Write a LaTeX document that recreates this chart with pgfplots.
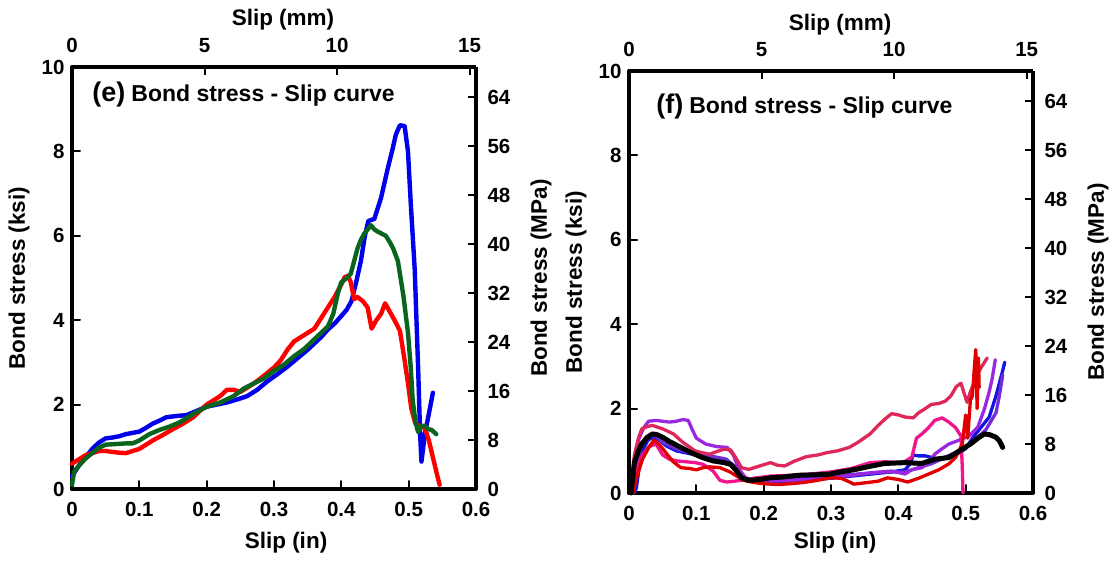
\documentclass[border=0pt]{standalone}
\usepackage{fontspec}
\setmainfont{Liberation Sans}
\usepackage{pgfplots}
\pgfplotsset{compat=1.18}
\definecolor{cblue}{RGB}{0,0,235}
\definecolor{cred}{RGB}{255,0,0}
\definecolor{cgreen}{RGB}{10,100,30}
\definecolor{rblue}{RGB}{20,20,225}
\definecolor{rpurple}{RGB}{155,40,225}
\definecolor{rviolet}{RGB}{115,45,215}
\definecolor{rcrimson}{RGB}{222,40,90}
\definecolor{rpink}{RGB}{242,20,140}
\definecolor{rred}{RGB}{225,0,0}
\pgfplotsset{
  base/.style={
    scale only axis, width=404pt, height=422pt,
    axis line style={line width=4pt},
    every tick/.style={line width=2pt, black},
    major tick length=8pt,
    tick align=inside,
    tick label style={font=\fontsize{20.5}{20.5}\selectfont\bfseries},
    label style={font=\fontsize{22.5}{22.5}\selectfont\bfseries},
    clip=false,
  },
  main/.style={base,
    xmin=0,xmax=0.6,ymin=0,ymax=10,
    axis x line*=bottom, axis y line*=left,
    xtick={0,0.1,0.2,0.3,0.4,0.5,0.6},
    xticklabels={0,0.1,0.2,0.3,0.4,0.5,0.6},
    ytick={0,2,4,6,8,10}, yticklabels={0,2,4,6,8,10},
    xticklabel shift=10pt, yticklabel shift=4pt,
    xlabel={Slip (in)}, ylabel={Bond stress (ksi)},
    ylabel style={at={(axis description cs:0,0.5)}, anchor=center, yshift=53pt},
    line join=round, line cap=round,
  },
  sec/.style={base,
    xmin=0,xmax=15.24,ymin=0,ymax=68.95,
    axis x line*=top, axis y line*=right,
    xtick={0,5,10,15}, xticklabels={0,5,10,15},
    ytick={0,8,16,24,32,40,48,56,64}, yticklabels={0,8,16,24,32,40,48,56,64},
    xticklabel shift=11pt, yticklabel shift=8pt,
    xlabel={Slip (mm)}, ylabel={Bond stress (MPa)},
    ylabel style={at={(axis description cs:1,0.5)}, anchor=center, yshift=-65pt},
  },
}
\begin{document}
\begin{tikzpicture}
\useasboundingbox (0,0) rectangle (1118pt,562pt);
% ---------------- panel (e)
\begin{axis}[sec, at={(72pt,73pt)}, anchor=south west,
  xlabel style={at={(axis description cs:0.5,1)}, anchor=center, yshift=47pt, xshift=9pt}]
\end{axis}
\begin{axis}[main, at={(72pt,73pt)}, anchor=south west,
  xlabel style={at={(axis description cs:0.5,0)}, anchor=center, yshift=-54pt, xshift=12pt}]
\node[anchor=west, inner sep=0pt] at (rel axis cs:0.05,0.935)
  {\fontsize{27}{27}\selectfont\bfseries (e)\hspace{6pt}\fontsize{23}{23}\selectfont Bond stress - Slip curve};
\addplot[cblue, line width=4.4pt] coordinates {
(0,0.3) (0.01,0.55) (0.02,0.75) (0.03,0.95) (0.04,1.1) (0.05,1.2) (0.06,1.22) (0.07,1.25) (0.08,1.3) (0.09,1.33) (0.1,1.36) (0.11,1.45) (0.12,1.55) (0.13,1.62) (0.14,1.7) (0.155,1.73) (0.17,1.75) (0.185,1.85) (0.2,1.95) (0.215,2.0) (0.23,2.05) (0.245,2.12) (0.26,2.2) (0.275,2.35) (0.29,2.55) (0.305,2.72) (0.32,2.9) (0.335,3.1) (0.35,3.3) (0.36,3.45) (0.37,3.6) (0.38,3.78) (0.39,3.92) (0.40,4.1) (0.408,4.25) (0.415,4.45) (0.422,4.9) (0.429,5.4) (0.435,6.0) (0.44,6.35) (0.449,6.4) (0.459,6.9) (0.469,7.6) (0.476,8.05) (0.481,8.4) (0.487,8.62) (0.494,8.6) (0.499,8.0) (0.503,6.8) (0.509,5.2) (0.514,2.9) (0.517,1.3) (0.519,0.65) (0.524,1.3) (0.529,1.7) (0.536,2.28)
};
\addplot[cred, line width=4.4pt] coordinates {
(0,0.6) (0.01,0.7) (0.02,0.8) (0.03,0.85) (0.04,0.9) (0.05,0.9) (0.06,0.88) (0.07,0.86) (0.08,0.85) (0.09,0.9) (0.1,0.95) (0.11,1.05) (0.12,1.15) (0.135,1.28) (0.15,1.42) (0.165,1.55) (0.18,1.7) (0.19,1.85) (0.2,2.0) (0.21,2.1) (0.22,2.2) (0.23,2.35) (0.24,2.35) (0.25,2.3) (0.26,2.4) (0.27,2.5) (0.28,2.62) (0.29,2.75) (0.3,2.88) (0.31,3.05) (0.32,3.3) (0.33,3.5) (0.34,3.6) (0.35,3.7) (0.36,3.8) (0.37,4.05) (0.38,4.3) (0.39,4.55) (0.40,4.85) (0.405,5.02) (0.41,5.05) (0.414,4.9) (0.419,4.5) (0.424,4.55) (0.432,4.45) (0.439,4.3) (0.445,3.8) (0.452,4.0) (0.459,4.15) (0.465,4.4) (0.472,4.2) (0.479,4.0) (0.487,3.75) (0.494,3.05) (0.499,2.5) (0.504,1.9) (0.51,1.55) (0.516,1.5) (0.524,1.45) (0.53,1.15) (0.536,0.75) (0.542,0.35) (0.546,0.1)
};
\addplot[cgreen, line width=4.4pt] coordinates {
(0,0.1) (0.003,0.4) (0.01,0.55) (0.02,0.72) (0.03,0.85) (0.04,0.98) (0.05,1.05) (0.06,1.06) (0.07,1.07) (0.08,1.08) (0.09,1.08) (0.1,1.15) (0.115,1.3) (0.13,1.4) (0.145,1.48) (0.16,1.58) (0.18,1.78) (0.2,1.95) (0.22,2.05) (0.24,2.2) (0.255,2.38) (0.27,2.5) (0.285,2.62) (0.3,2.8) (0.315,2.95) (0.33,3.15) (0.345,3.32) (0.36,3.55) (0.37,3.7) (0.38,3.85) (0.388,4.15) (0.395,4.65) (0.40,4.9) (0.408,5.0) (0.414,5.1) (0.419,5.4) (0.424,5.7) (0.429,5.9) (0.434,6.05) (0.439,6.15) (0.444,6.25) (0.449,6.15) (0.454,6.1) (0.46,6.05) (0.466,6.0) (0.472,5.85) (0.477,5.7) (0.484,5.4) (0.488,5.0) (0.492,4.6) (0.499,3.7) (0.503,2.9) (0.506,2.1) (0.51,1.6) (0.514,1.35) (0.519,1.5) (0.524,1.5) (0.529,1.42) (0.534,1.4) (0.541,1.3)
};
\end{axis}
% ---------------- panel (f)
\begin{axis}[sec, at={(629pt,69pt)}, anchor=south west,
  xlabel style={at={(axis description cs:0.5,1)}, anchor=center, yshift=46pt, xshift=9pt}]
\end{axis}
\begin{axis}[main, at={(629pt,69pt)}, anchor=south west,
  xlabel style={at={(axis description cs:0.5,0)}, anchor=center, yshift=-50pt, xshift=4pt}]
\node[anchor=west, inner sep=0pt] at (rel axis cs:0.067,0.915)
  {\fontsize{27}{27}\selectfont\bfseries (f)\hspace{6pt}\fontsize{23}{23}\selectfont Bond stress - Slip curve};
\addplot[rblue, line width=3.3pt] coordinates {
(0.008,0.0) (0.011,0.12) (0.015,0.6) (0.02,1.0) (0.028,1.25) (0.035,1.32) (0.045,1.25) (0.055,1.12) (0.07,1.0) (0.085,0.95) (0.1,0.9) (0.115,0.85) (0.13,0.8) (0.145,0.78) (0.155,0.65) (0.165,0.45) (0.175,0.32) (0.19,0.28) (0.21,0.25) (0.23,0.28) (0.26,0.3) (0.3,0.35) (0.33,0.4) (0.36,0.45) (0.39,0.5) (0.41,0.55) (0.418,0.7) (0.422,0.9) (0.43,0.88) (0.44,0.88) (0.45,0.84) (0.46,0.8) (0.47,0.85) (0.48,0.9) (0.49,0.95) (0.5,1.05) (0.51,1.3) (0.52,1.5) (0.535,1.8) (0.545,2.3) (0.55,2.6) (0.555,2.9) (0.558,3.1)
};
\addplot[rviolet, line width=3.3pt] coordinates {
(0.005,0) (0.012,0.8) (0.02,1.15) (0.03,1.35) (0.04,1.35) (0.05,1.2) (0.07,1.05) (0.09,0.95) (0.11,0.9) (0.13,0.85) (0.145,0.8) (0.16,0.55) (0.17,0.35) (0.19,0.3) (0.22,0.3) (0.26,0.35) (0.3,0.4) (0.34,0.45) (0.38,0.5) (0.41,0.5) (0.43,0.6) (0.45,0.7) (0.47,0.85) (0.49,1.0) (0.51,1.2) (0.53,1.5) (0.545,1.9) (0.55,2.3) (0.555,2.8)
};
\addplot[rpurple, line width=3.3pt] coordinates {
(0.003,0.0) (0.008,0.8) (0.015,1.3) (0.022,1.55) (0.029,1.7) (0.04,1.72) (0.05,1.7) (0.06,1.68) (0.07,1.7) (0.08,1.74) (0.088,1.72) (0.094,1.5) (0.1,1.3) (0.114,1.16) (0.13,1.1) (0.146,1.08) (0.155,0.9) (0.162,0.6) (0.173,0.36) (0.19,0.3) (0.21,0.28) (0.24,0.3) (0.28,0.33) (0.32,0.4) (0.36,0.48) (0.39,0.52) (0.41,0.45) (0.42,0.55) (0.435,0.6) (0.445,0.72) (0.454,0.92) (0.465,1.05) (0.475,1.16) (0.49,1.25) (0.505,1.35) (0.518,1.56) (0.528,2.0) (0.535,2.4) (0.539,2.68) (0.544,3.16)
};
\addplot[rcrimson, line width=3.3pt] coordinates {
(0.002,0) (0.008,0.9) (0.014,1.3) (0.019,1.52) (0.028,1.58) (0.035,1.6) (0.05,1.52) (0.066,1.4) (0.08,1.2) (0.098,1.0) (0.11,0.95) (0.12,0.92) (0.13,0.98) (0.141,1.04) (0.151,1.02) (0.16,0.8) (0.167,0.6) (0.178,0.56) (0.19,0.62) (0.21,0.72) (0.22,0.66) (0.231,0.64) (0.245,0.75) (0.263,0.86) (0.28,0.9) (0.295,0.96) (0.31,1.0) (0.327,1.08) (0.34,1.2) (0.358,1.4) (0.37,1.6) (0.38,1.75) (0.39,1.88) (0.40,1.85) (0.41,1.8) (0.422,1.78) (0.43,1.9) (0.44,2.0) (0.449,2.1) (0.46,2.12) (0.47,2.18) (0.478,2.3) (0.486,2.52) (0.493,2.6) (0.497,2.4) (0.502,2.15) (0.507,2.4) (0.515,2.7) (0.522,2.95) (0.532,3.2)
};
\addplot[rpink, line width=3.3pt] coordinates {
(0.005,0) (0.01,0.5) (0.02,0.9) (0.03,1.1) (0.04,1.16) (0.05,0.9) (0.06,0.8) (0.072,0.76) (0.085,0.74) (0.098,0.72) (0.11,0.68) (0.125,0.52) (0.135,0.3) (0.145,0.26) (0.157,0.28) (0.175,0.32) (0.189,0.36) (0.21,0.4) (0.24,0.42) (0.27,0.45) (0.3,0.5) (0.33,0.58) (0.358,0.72) (0.38,0.74) (0.40,0.72) (0.41,0.75) (0.42,0.85) (0.427,1.3) (0.435,1.4) (0.445,1.55) (0.454,1.72) (0.465,1.78) (0.475,1.68) (0.485,1.55) (0.493,1.35) (0.495,0.6) (0.496,0)
};
\addplot[rred, line width=3.3pt] coordinates {
(0.006,0) (0.012,0.4) (0.02,0.8) (0.03,1.1) (0.037,1.25) (0.045,1.15) (0.055,0.95) (0.065,0.75) (0.077,0.6) (0.09,0.58) (0.1,0.55) (0.11,0.6) (0.12,0.62) (0.135,0.6) (0.15,0.5) (0.16,0.4) (0.17,0.3) (0.185,0.25) (0.2,0.22) (0.22,0.2) (0.24,0.22) (0.26,0.25) (0.28,0.3) (0.299,0.36) (0.315,0.35) (0.325,0.28) (0.334,0.21) (0.35,0.24) (0.37,0.28) (0.384,0.36) (0.4,0.32) (0.414,0.26) (0.43,0.35) (0.445,0.45) (0.46,0.55) (0.475,0.69) (0.485,0.84) (0.495,1.16) (0.5,1.85) (0.503,1.3) (0.507,2.2) (0.51,2.3) (0.513,3.0) (0.515,3.4) (0.517,2.0) (0.519,3.2) (0.52,2.5)
};
\addplot[black, line width=5pt] coordinates {
(0.003,0) (0.008,0.72) (0.014,1.0) (0.019,1.16) (0.027,1.32) (0.035,1.4) (0.042,1.38) (0.05,1.32) (0.06,1.22) (0.077,1.08) (0.093,0.95) (0.109,0.84) (0.125,0.76) (0.141,0.72) (0.151,0.68) (0.16,0.52) (0.167,0.36) (0.178,0.3) (0.195,0.32) (0.21,0.36) (0.23,0.38) (0.252,0.42) (0.275,0.43) (0.295,0.44) (0.315,0.5) (0.337,0.56) (0.36,0.64) (0.38,0.7) (0.41,0.72) (0.435,0.7) (0.454,0.8) (0.475,0.84) (0.491,1.0) (0.507,1.16) (0.52,1.32) (0.528,1.4) (0.536,1.38) (0.545,1.32) (0.55,1.24) (0.555,1.08)
};
\end{axis}
\end{tikzpicture}
\end{document}
